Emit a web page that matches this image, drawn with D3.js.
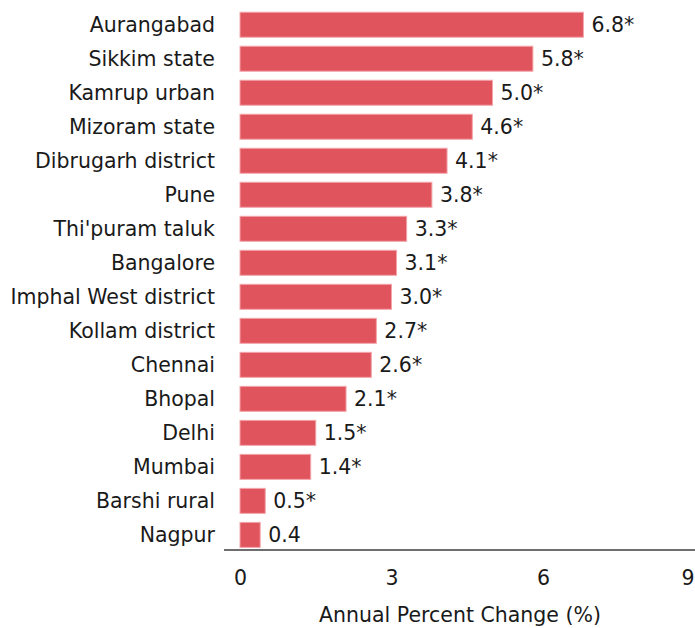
<!DOCTYPE html>
<html>
<head>
<meta charset="utf-8">
<script src="https://cdn.jsdelivr.net/npm/d3@7"></script>
<style>
  body { margin: 0; background: #fff; }
  text { font-family: "Century Gothic", "DejaVu Sans", sans-serif; fill: #1a1a1a; }
</style>
</head>
<body>
<div id="chart"></div>
<script>
const places = ["Aurangabad", "Sikkim state", "Kamrup urban", "Mizoram state", "Dibrugarh district",
  "Pune", "Thi'puram taluk", "Bangalore", "Imphal West district", "Kollam district",
  "Chennai", "Bhopal", "Delhi", "Mumbai", "Barshi rural", "Nagpur"];
const apc = [6.8, 5.8, 5.0, 4.6, 4.1, 3.8, 3.3, 3.1, 3.0, 2.7, 2.6, 2.1, 1.5, 1.4, 0.5, 0.4];
const significant = [true, true, true, true, true, true, true, true, true, true, true, true, true, true, true, false];
const xTicks = [0, 3, 6, 9];

const width = 695, height = 628;
const fontSize = "20.5px";
const data = places.map((p, i) => ({ place: p, value: apc[i], sig: significant[i] }));

const svg = d3.select("#chart").append("svg")
  .attr("width", width)
  .attr("height", height);

const x = d3.scaleLinear().domain([0, 9]).range([240, 694.5]);
const y = d3.scaleBand().domain(places).range([7.8, 551.8]).paddingInner(0.265).paddingOuter(0.13);

// bars
svg.selectAll("rect.bar")
  .data(data)
  .join("rect")
  .attr("class", "bar")
  .attr("x", x(0))
  .attr("y", d => y(d.place))
  .attr("width", d => x(d.value) - x(0))
  .attr("height", y.bandwidth())
  .attr("fill", "#e0545e")
  .attr("stroke", "#f3a5aa")
  .attr("stroke-width", 1);

// category labels
svg.selectAll("text.cat")
  .data(data)
  .join("text")
  .attr("class", "cat")
  .attr("x", 215)
  .attr("y", d => y(d.place) + y.bandwidth() / 2)
  .attr("dy", "0.35em")
  .attr("text-anchor", "end")
  .style("font-size", fontSize)
  .text(d => d.place);

// value labels
svg.selectAll("text.val")
  .data(data)
  .join("text")
  .attr("class", "val")
  .attr("x", d => x(d.value) + 8)
  .attr("y", d => y(d.place) + y.bandwidth() / 2)
  .attr("dy", "0.35em")
  .style("font-size", fontSize)
  .text(d => d.value.toFixed(1) + (d.sig ? "*" : ""));

// x axis
const xAxis = svg.append("g")
  .attr("transform", "translate(0,550)")
  .call(d3.axisBottom(x).tickValues(xTicks).tickSize(0).tickPadding(20));
xAxis.select(".domain").remove();
xAxis.append("line")
  .attr("x1", 224).attr("x2", width)
  .attr("stroke", "#6e6e6e").attr("stroke-width", 2);
xAxis.selectAll(".tick text")
  .style("font-size", fontSize)
  .attr("fill", "#1a1a1a")
  .style("font-family", "\"Century Gothic\", \"DejaVu Sans\", sans-serif")
  .attr("text-anchor", d => d === 9 ? "end" : "middle")
  .attr("dx", d => d === 9 ? 0 : 0)
  .attr("x", d => d === 9 ? width - x(9) - 1 : 0);

svg.append("text")
  .attr("x", 460)
  .attr("y", 615)
  .attr("dy", "0.35em")
  .attr("text-anchor", "middle")
  .style("font-size", fontSize)
  .text("Annual Percent Change (%)");
</script>
</body>
</html>
